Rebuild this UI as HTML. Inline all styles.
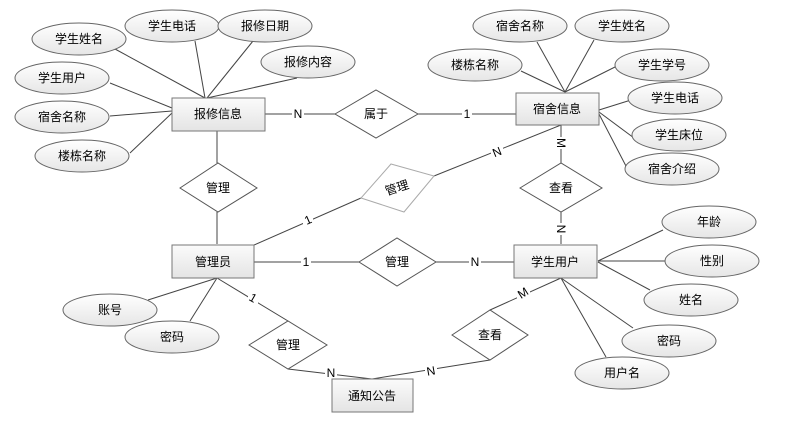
<!DOCTYPE html>
<html><head><meta charset="utf-8"><style>
html,body{margin:0;padding:0;background:#fff;}
svg{display:block;}
text{font-family:"Liberation Sans","Noto Sans CJK SC",sans-serif;font-size:12px;fill:#000;text-anchor:middle;dominant-baseline:central;}
</style></head><body>
<svg width="801" height="428" viewBox="0 0 801 428" xmlns="http://www.w3.org/2000/svg">
<defs>
<linearGradient id="g" x1="0" y1="0" x2="0" y2="1"><stop offset="0" stop-color="#fbfbfb"/><stop offset="1" stop-color="#e4e4e4"/></linearGradient>
<linearGradient id="e" x1="0" y1="0" x2="0" y2="1"><stop offset="0" stop-color="#ffffff"/><stop offset="1" stop-color="#e6e6e6"/></linearGradient>
</defs>
<g stroke="#444" stroke-width="1" fill="none">
<!-- 报修 attrs -->
<line x1="115" y1="49" x2="205" y2="98"/><line x1="195" y1="41" x2="205" y2="98"/>
<line x1="253" y1="41" x2="207" y2="98"/><line x1="297" y1="78" x2="207" y2="98"/>
<line x1="110" y1="83" x2="172" y2="108"/><line x1="110" y1="116" x2="172" y2="111"/>
<line x1="130" y1="153" x2="172" y2="113"/>
<!-- 宿舍 attrs -->
<line x1="537" y1="42" x2="565" y2="92"/><line x1="594" y1="40" x2="565" y2="92"/>
<line x1="521" y1="71" x2="565" y2="92"/><line x1="617" y1="66" x2="565" y2="92"/>
<line x1="599" y1="110" x2="631" y2="100"/><line x1="599" y1="112" x2="634" y2="138"/>
<line x1="599" y1="114" x2="627" y2="168"/>
<!-- relations -->
<line x1="265" y1="114" x2="335" y2="114"/><line x1="418" y1="114" x2="516" y2="114"/>
<line x1="561" y1="125" x2="561" y2="163"/><line x1="561" y1="212" x2="561" y2="244"/>
<line x1="434" y1="176" x2="561" y2="125"/><line x1="254" y1="245" x2="361" y2="198"/>
<line x1="217" y1="131" x2="217" y2="163"/><line x1="217" y1="212" x2="217" y2="244"/>
<line x1="254" y1="262" x2="359" y2="262"/><line x1="436" y1="262" x2="514" y2="262"/>
<!-- 学生 attrs -->
<line x1="598" y1="261" x2="663" y2="230"/><line x1="598" y1="261" x2="665" y2="261"/>
<line x1="598" y1="262" x2="650" y2="290"/><line x1="561" y1="278" x2="633" y2="328"/>
<line x1="561" y1="278" x2="606" y2="357"/>
<line x1="561" y1="278" x2="490" y2="310"/><line x1="490" y1="360" x2="372" y2="379"/>
<line x1="288" y1="369" x2="372" y2="379"/>
<line x1="217" y1="278" x2="288" y2="321"/>
<line x1="217" y1="278" x2="148" y2="300"/><line x1="217" y1="278" x2="190" y2="321"/>
</g>
<!-- labels on lines -->
<g>
<rect x="292" y="107" width="12" height="14" fill="#fff"/><text x="298" y="114">N</text>
<rect x="462" y="107" width="10" height="14" fill="#fff"/><text x="467" y="114">1</text>
<rect x="554" y="137" width="14" height="12" fill="#fff"/><text x="561" y="143" transform="rotate(90 561 143)">M</text>
<rect x="554" y="223" width="14" height="12" fill="#fff"/><text x="561" y="229" transform="rotate(90 561 229)">N</text>
<rect x="491" y="146" width="12" height="12" fill="#fff"/><text x="497" y="152" transform="rotate(-22 497 152)">N</text>
<rect x="303" y="214" width="10" height="12" fill="#fff"/><text x="308" y="220" transform="rotate(-24 308 220)">1</text>
<rect x="301" y="255" width="10" height="14" fill="#fff"/><text x="306" y="262">1</text>
<rect x="469" y="255" width="12" height="14" fill="#fff"/><text x="475" y="262">N</text>
<rect x="517" y="287" width="13" height="12" fill="#fff"/><text x="523" y="293" transform="rotate(-33 523 293)">M</text>
<rect x="425" y="365" width="12" height="12" fill="#fff"/><text x="431" y="371" transform="rotate(-10 431 371)">N</text>
<rect x="325" y="367" width="12" height="12" fill="#fff"/><text x="331" y="373">N</text>
<rect x="248" y="292" width="10" height="12" fill="#fff"/><text x="253" y="298" transform="rotate(30 253 298)">1</text>
</g>
<!-- entities -->
<g stroke="#777" stroke-width="1" fill="url(#g)">
<rect x="172" y="98" width="93" height="33"/>
<rect x="516" y="93" width="83" height="32"/>
<rect x="172" y="245" width="82" height="33"/>
<rect x="514" y="245" width="83" height="33"/>
<rect x="332" y="379" width="81" height="33"/>
</g>
<text x="218" y="114">报修信息</text><text x="557" y="109">宿舍信息</text>
<text x="213" y="262">管理员</text><text x="555" y="262">学生用户</text><text x="372" y="396">通知公告</text>
<!-- relationships -->
<g stroke="#555" stroke-width="1" fill="#fff">
<polygon points="335,114 376,90 418,114 376,138"/>
<polygon points="180,188 218,163 257,188 218,212"/>
<polygon points="520,188 561,163 602,188 561,212"/>
<polygon points="359,262 397,238 436,262 397,286"/>
<polygon points="249,345 288,321 327,345 288,369"/>
<polygon points="452,335 490,310 528,335 490,360"/>
<polygon points="391,164 434,176 404,212 361,198" stroke="#aaa"/>
</g>
<text x="376" y="114">属于</text><text x="218" y="188">管理</text><text x="561" y="188">查看</text>
<text x="397" y="262">管理</text><text x="288" y="345">管理</text><text x="490" y="335">查看</text>
<text x="397" y="188" transform="rotate(-18 397 188)">管理</text>
<!-- attributes -->
<g stroke="#666" stroke-width="1" fill="url(#e)">
<ellipse cx="79" cy="39" rx="47" ry="16"/><ellipse cx="172" cy="26" rx="47" ry="16"/>
<ellipse cx="265" cy="26" rx="47" ry="16"/><ellipse cx="308" cy="62" rx="47" ry="16"/>
<ellipse cx="62" cy="78" rx="47" ry="16"/><ellipse cx="62" cy="117" rx="47" ry="16"/>
<ellipse cx="82" cy="156" rx="47" ry="16"/>
<ellipse cx="520" cy="26" rx="47" ry="16"/><ellipse cx="622" cy="26" rx="47" ry="16"/>
<ellipse cx="475" cy="65" rx="47" ry="16"/><ellipse cx="662" cy="65" rx="47" ry="16"/>
<ellipse cx="675" cy="98" rx="47" ry="16"/><ellipse cx="679" cy="135" rx="47" ry="16"/>
<ellipse cx="672" cy="169" rx="47" ry="16"/>
<ellipse cx="709" cy="222" rx="47" ry="16"/><ellipse cx="712" cy="261" rx="47" ry="16"/>
<ellipse cx="691" cy="300" rx="47" ry="16"/><ellipse cx="669" cy="341" rx="47" ry="16"/>
<ellipse cx="622" cy="373" rx="47" ry="16"/>
<ellipse cx="110" cy="310" rx="47" ry="16"/><ellipse cx="172" cy="337" rx="47" ry="16"/>
</g>
<text x="79" y="39">学生姓名</text><text x="172" y="26">学生电话</text><text x="265" y="26">报修日期</text>
<text x="308" y="62">报修内容</text><text x="62" y="78">学生用户</text><text x="62" y="117">宿舍名称</text>
<text x="82" y="156">楼栋名称</text>
<text x="520" y="26">宿舍名称</text><text x="622" y="26">学生姓名</text><text x="475" y="65">楼栋名称</text>
<text x="662" y="65">学生学号</text><text x="675" y="98">学生电话</text><text x="679" y="135">学生床位</text>
<text x="672" y="169">宿舍介绍</text>
<text x="709" y="222">年龄</text><text x="712" y="261">性别</text><text x="691" y="300">姓名</text>
<text x="669" y="341">密码</text><text x="622" y="373">用户名</text>
<text x="110" y="310">账号</text><text x="172" y="337">密码</text>
</svg>
</body></html>
